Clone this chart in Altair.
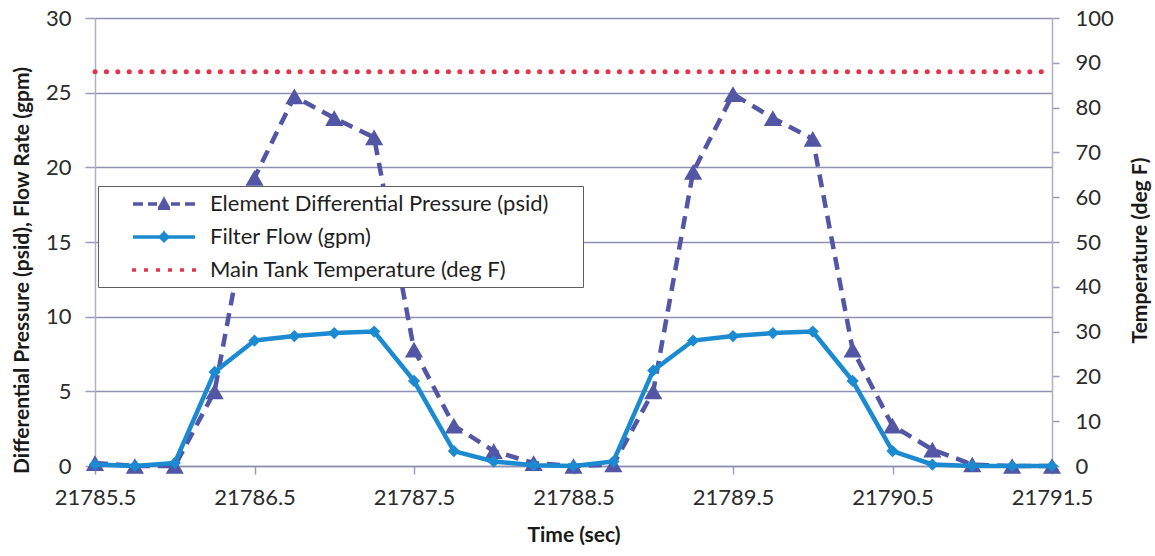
import altair as alt
import pandas as pd

# Sample times (s), one reading every 0.25 s
time_s = [21785.5, 21785.75, 21786.0, 21786.25, 21786.5, 21786.75, 21787.0, 21787.25,
          21787.5, 21787.75, 21788.0, 21788.25, 21788.5, 21788.75, 21789.0, 21789.25,
          21789.5, 21789.75, 21790.0, 21790.25, 21790.5, 21790.75, 21791.0, 21791.25,
          21791.5]
# Element differential pressure (psid)
pressure_psid = [0.2, 0.0, 0.0, 5.0, 19.3, 24.75, 23.3, 22.0, 7.8, 2.7, 1.0, 0.2, 0.0,
                 0.1, 5.0, 19.7, 24.9, 23.3, 21.9, 7.8, 2.7, 1.1, 0.1, 0.0, 0.0]
# Filter flow (gpm)
flow_gpm = [0.1, 0.0, 0.2, 6.3, 8.4, 8.7, 8.9, 9.0, 5.7, 1.0, 0.3, 0.05, 0.0,
            0.3, 6.4, 8.4, 8.7, 8.9, 9.0, 5.7, 1.0, 0.1, 0.0, 0.0, 0.0]
# Main tank temperature (deg F)
tank_temp_f = [88, 88, 88, 88, 88, 88, 88, 88, 88, 88, 88, 88, 88,
               88, 88, 88, 88, 88, 88, 88, 88, 88, 88, 88, 88]

series_names = ["Element Differential Pressure (psid)", "Filter Flow (gpm)",
                "Main Tank Temperature (deg F)"]
x_ticks = [21785.5, 21786.5, 21787.5, 21788.5, 21789.5, 21790.5, 21791.5]
left_ticks = [0, 5, 10, 15, 20, 25, 30]
right_ticks = [0, 10, 20, 30, 40, 50, 60, 70, 80, 90, 100]

C_DP = "#5356a4"
C_FLOW = "#1b8ad0"
C_TEMP = "#e4344c"
FONT = "Lato"

df = pd.DataFrame({"t": time_s, "dp": pressure_psid, "flow": flow_gpm,
                   "temp": tank_temp_f})

x_enc = alt.X(
    "t:Q",
    scale=alt.Scale(domain=[21785.5, 21791.5], nice=False, zero=False),
    axis=alt.Axis(values=x_ticks, format=".1f", title="Time (sec)", grid=False,
                  tickSize=8, tickColor="#9a9cb8", tickWidth=1.5,
                  domainColor="#8d91b0", domainWidth=1.5,
                  labelFont=FONT, labelFontSize=22, labelColor="#2b2b2b",
                  labelPadding=13, labelFlush=False,
                  titleFont=FONT, titleFontSize=21, titleFontWeight="bold",
                  titleColor="#1a1a1a", titleBaseline="top", titleY=58),
)

left_axis = alt.Axis(
    values=left_ticks, title="Differential Pressure (psid), Flow Rate (gpm)",
    grid=True, gridColor="#8d91b0", gridWidth=1.5,
    domainColor="#aeb0c8", domainWidth=1.5,
    tickSize=10, tickColor="#9a9cb8", tickWidth=1.5,
    labelFont=FONT, labelFontSize=22, labelColor="#2b2b2b", labelPadding=14,
    titleFont=FONT, titleFontSize=21, titleFontWeight="bold", titleColor="#1a1a1a",
    titleAngle=270, titleX=-73, titleY=252, titleAlign="center",
    titleBaseline="middle",
)
y_left_scale = alt.Scale(domain=[0, 30], nice=False)

dp_line = alt.Chart(df).mark_line(
    color=C_DP, strokeWidth=4.5, strokeDash=[13, 8]
).encode(x=x_enc, y=alt.Y("dp:Q", scale=y_left_scale, axis=left_axis))

dp_pts = alt.Chart(df).mark_point(
    shape="triangle-up", filled=True, color=C_DP, size=330, opacity=1
).encode(x=x_enc, y=alt.Y("dp:Q", scale=y_left_scale, axis=left_axis))

flow_line = alt.Chart(df).mark_line(
    color=C_FLOW, strokeWidth=4.5
).encode(x=x_enc, y=alt.Y("flow:Q", scale=y_left_scale, axis=left_axis))

flow_pts = alt.Chart(df).mark_point(
    shape="diamond", filled=True, color=C_FLOW, size=150, opacity=1
).encode(x=x_enc, y=alt.Y("flow:Q", scale=y_left_scale, axis=left_axis))


# Legend glyphs, built from horizontal strokes only (unit box, 10 px per unit).
HALF = 0.175  # half of the 3.5 px symbol stroke, in units


def bars(rows):
    return "".join(f"M{-w:.3f},{c:.3f}H{w:.3f}" for c, w in rows)


def triangle(apex=-0.8, base=0.6, half_base=0.8):
    rows, c = [], base - HALF
    while c >= apex + HALF - 1e-9:
        top = c - HALF
        rows.append((c, max(0.05, half_base * (top - apex) / (base - apex))))
        c -= 0.1
    return bars(rows)


def diamond(r=0.65):
    rows, c = [], -r + HALF
    while c <= r - HALF + 1e-9:
        rows.append((c, max(0.05, r - abs(c) - HALF)))
        c += 0.1
    return bars(rows)


dp_glyph = "M-3.1,0H-2.1M-1.6,0H-0.7M0.7,0H1.6M2.1,0H3.1" + triangle()
flow_glyph = "M-3.1,0H3.1" + diamond()
temp_glyph = "".join(f"M{v - 0.2:.2f},0H{v + 0.2:.2f}"
                     for v in [-3.0, -1.8, -0.6, 0.6, 1.8, 3.0])

legend = alt.Legend(
    title=None, orient="none", legendX=3, legendY=168,
    fillColor="white", strokeColor="#5f5f5f", padding=6,
    labelFont=FONT, labelFontSize=22, labelColor="#1f1f1f", labelLimit=0,
    labelExpr="datum.label + '\u00a0\u00a0\u00a0\u00a0\u00a0\u200b'",
    symbolSize=400, symbolStrokeWidth=3.5, symbolOpacity=1,
    symbolOffset=48, labelOffset=34, rowPadding=9,
)
key_layer = alt.Chart(df).transform_calculate(
    series="'" + series_names[0] + "'"
).transform_filter("datum.t < 0").mark_point(
    filled=True, size=400, opacity=1, strokeWidth=3.5
).encode(
    x=x_enc,
    y=alt.Y("dp:Q", scale=y_left_scale, axis=left_axis),
    fill=alt.Fill("series:N", scale=alt.Scale(domain=series_names,
                                              range=[C_DP, C_FLOW, C_TEMP]),
                  legend=legend),
    stroke=alt.Stroke("series:N", scale=alt.Scale(domain=series_names,
                                                  range=[C_DP, C_FLOW, C_TEMP]),
                      legend=legend),
    shape=alt.Shape("series:N", scale=alt.Scale(domain=series_names,
                                                range=[dp_glyph, flow_glyph, temp_glyph]),
                    legend=legend),
)

left = alt.layer(dp_line, dp_pts, flow_line, flow_pts, key_layer)

temp_line = alt.Chart(df).mark_line(
    color=C_TEMP, strokeWidth=5, strokeDash=[0.1, 11.3], strokeCap="round"
).encode(
    x=x_enc,
    y=alt.Y("temp:Q", scale=alt.Scale(domain=[0, 100], nice=False),
            axis=alt.Axis(orient="right", values=right_ticks, title="Temperature (deg F)",
                          grid=False, domainColor="#aeb0c8", domainWidth=1.5,
                          tickSize=7, tickColor="#9a9cb8", tickWidth=1.5,
                          labelFont=FONT, labelFontSize=22, labelColor="#2b2b2b",
                          labelPadding=16,
                          titleFont=FONT, titleFontSize=21, titleFontWeight="bold",
                          titleColor="#1a1a1a", titleAngle=270, titleX=88, titleY=232,
                          titleAlign="center", titleBaseline="middle")),
)

chart = alt.layer(left, temp_line).resolve_scale(y="independent").properties(
    width=957, height=448,
    autosize=alt.AutoSizeParams(type="none"),
    padding={"left": 95, "top": 18, "right": 103, "bottom": 90},
    background="white",
).configure_view(stroke=None)

chart.save("out.html", embed_options={"renderer": "svg", "actions": False})
